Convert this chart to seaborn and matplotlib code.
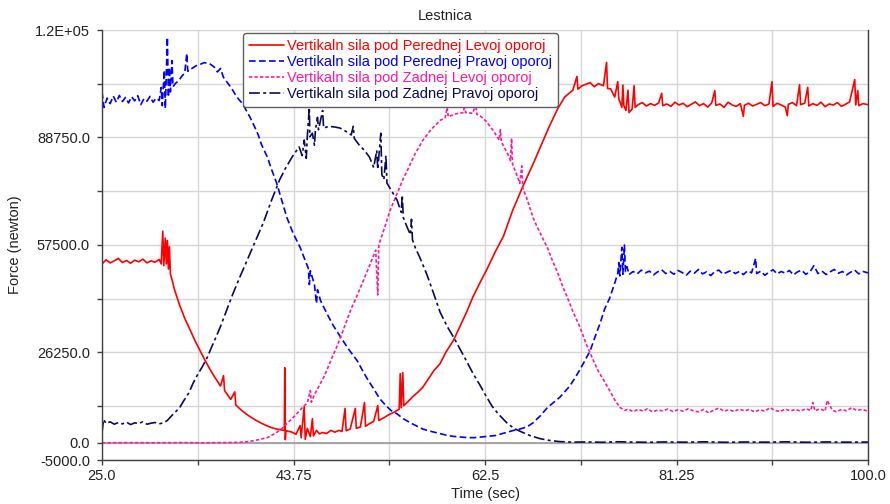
import matplotlib
matplotlib.use("Agg")
import matplotlib.pyplot as plt
import seaborn as sns

# Vertikaln sila pod Perednej Levoj oporoj (red, solid)
t_red = [25.0, 25.4, 25.8, 26.2, 26.6, 27.0, 27.4, 27.8, 28.2, 28.6, 29.0, 29.4, 29.8, 30.2, 30.6,
         30.8, 30.95, 31.05, 31.2, 31.3, 31.4, 31.5, 31.6, 31.7, 31.85, 32.1, 32.6, 33.1, 33.6, 34.1,
         34.6, 35.1, 35.6, 36.1, 36.6, 36.9, 37.0, 37.6, 38.0, 38.1, 38.6, 39.1, 39.6, 40.1, 40.6,
         41.1, 41.6, 42.1, 42.6, 42.85, 42.9, 42.95, 43.0, 43.5, 44.0, 44.4, 44.5, 44.8, 44.9, 45.1,
         45.4, 45.6, 45.7, 46.0, 46.3, 46.6, 47.0, 47.4, 47.8, 48.2, 48.5, 48.8, 48.9, 49.3, 49.8,
         49.9, 50.3, 50.7, 50.8, 51.2, 51.6, 52.0, 52.1, 52.6, 53.1, 53.6, 54.1, 54.2, 54.3, 54.45,
         54.55, 54.9, 55.5, 56.0, 56.4, 57.0, 57.5, 58.1, 58.7, 59.4, 60.0, 60.7, 61.3, 62.0, 62.7,
         63.5, 64.3, 65.2, 66.2, 67.2, 68.0, 68.8, 69.6, 70.3, 71.1, 71.5, 71.6, 72.0, 72.8, 73.2,
         73.6, 74.1, 74.4, 74.5, 74.8, 75.2, 75.5, 75.6, 75.9, 76.0, 76.1, 76.3, 76.5, 76.6, 76.9,
         77.1, 77.2, 77.5, 77.9, 78.3, 78.7, 79.1, 79.5, 79.8, 79.9, 80.3, 80.7, 81.1, 81.5, 81.9,
         82.3, 82.7, 83.1, 83.5, 83.9, 84.3, 84.7, 85.0, 85.1, 85.5, 85.9, 86.3, 86.7, 87.1, 87.5,
         87.8, 87.9, 88.3, 88.7, 89.1, 89.5, 89.9, 90.3, 90.6, 90.7, 91.1, 91.5, 91.9, 92.1, 92.2,
         92.6, 93.0, 93.3, 93.4, 93.8, 94.1, 94.2, 94.6, 95.0, 95.4, 95.8, 96.2, 96.6, 97.0, 97.4,
         97.8, 98.2, 98.7, 98.8, 99.0, 99.1, 99.5, 100.0]
f_red = [52000, 53200, 52300, 52900, 53600, 52400, 53000, 52200, 53100, 52600, 53400, 52300, 52900, 52500, 53300,
         52000, 61500, 51500, 59500, 52000, 58800, 50500, 57000, 49000, 47500, 44500, 40000, 36200, 33000, 29700,
         26800, 23900, 21200, 18800, 16500, 19500, 15200, 12600, 14800, 11000, 9600, 8400, 7400, 6500, 5700,
         5000, 4400, 4000, 3700, 3600, 21800, 900, 3500, 3200, 2500, 5000, 1500, 10500, 1000, 4200,
         1800, 7000, 2000, 3600, 2600, 3000, 2700, 3600, 3100, 3600, 3300, 10000, 3500, 4000, 10000,
         4200, 4600, 11700, 4800, 5600, 6200, 10800, 6500, 7300, 8200, 8900, 9800, 20100, 10200, 20400,
         10800, 11800, 13600, 14900, 16100, 18800, 21000, 23000, 26500, 29700, 33500, 38000, 42300, 46500, 50500,
         55500, 60000, 67500, 74500, 81000, 86500, 92000, 97000, 100500, 102500, 106500, 102800, 103800, 104700, 103500,
         104400, 103800, 110600, 103000, 102900, 100500, 105000, 100000, 97500, 104000, 98000, 96600, 102500, 96000, 97000,
         103800, 97500, 98300, 98900, 97900, 98600, 98100, 98800, 101600, 98000, 98500, 97800, 99000, 98200, 98700,
         97700, 98400, 99100, 98000, 98600, 97600, 98800, 102400, 98100, 98500, 97500, 99000, 98200, 97800, 98600,
         94900, 98100, 98700, 97900, 98400, 98900, 98000, 98500, 105000, 97800, 98700, 98200, 97600, 95100, 98400,
         98900, 98000, 104100, 98300, 98700, 103300, 97900, 98600, 98100, 99000, 97700, 98500, 98200, 98900, 97800,
         98400, 99100, 105600, 98200, 102400, 98000, 98600, 98300]

# Vertikaln sila pod Perednej Pravoj oporoj (blue, dashed)
t_blue = [25.0, 25.2, 25.5, 25.8, 26.1, 26.4, 26.7, 27.0, 27.3, 27.6, 27.9, 28.2, 28.5, 28.8, 29.1,
          29.4, 29.7, 30.0, 30.3, 30.6, 30.8, 30.9, 31.1, 31.2, 31.4, 31.5, 31.6, 31.7, 31.85, 31.95,
          32.2, 32.5, 32.8, 33.1, 33.3, 33.4, 33.8, 34.2, 34.6, 35.0, 35.5, 36.0, 36.3, 36.6, 36.9,
          37.2, 37.5, 37.8, 38.1, 38.4, 38.7, 39.0, 39.5, 40.0, 40.3, 40.6, 41.2, 41.6, 42.1, 42.6,
          43.1, 43.7, 44.4, 45.2, 45.3, 45.4, 45.8, 46.0, 46.1, 46.4, 47.0, 47.6, 48.3, 49.1, 50.0,
          50.6, 51.1, 51.6, 52.2, 52.8, 53.3, 53.9, 54.5, 55.2, 55.8, 56.4, 57.1, 57.8, 58.6, 59.3,
          60.0, 60.8, 61.5, 62.2, 62.9, 63.5, 64.1, 64.7, 65.3, 65.9, 66.6, 67.2, 67.9, 68.6, 69.2,
          69.85, 70.3, 70.8, 71.3, 71.8, 72.3, 72.8, 73.3, 73.8, 74.2, 74.7, 75.2, 75.5, 75.6, 75.7,
          75.9, 76.0, 76.15, 76.25, 76.4, 76.6, 77.0, 77.4, 77.8, 78.2, 78.6, 79.0, 79.4, 79.8, 80.2,
          80.6, 81.0, 81.4, 81.8, 82.2, 82.6, 83.0, 83.4, 83.8, 84.2, 84.6, 85.0, 85.4, 85.8, 86.2,
          86.6, 87.0, 87.4, 87.8, 88.2, 88.6, 89.0, 89.1, 89.5, 89.9, 90.3, 90.7, 91.1, 91.5, 91.9,
          92.3, 92.7, 93.1, 93.5, 93.9, 94.3, 94.7, 95.1, 95.5, 95.9, 96.3, 96.7, 97.1, 97.5, 97.9,
          98.3, 98.7, 99.1, 99.5, 100.0]
f_blue = [102000, 97500, 100200, 98600, 100800, 99000, 101000, 99200, 100400, 98800, 100600, 99400, 100900, 98300, 100000,
          99300, 100700, 99000, 100200, 99500, 103300, 98000, 108300, 97200, 117900, 100500, 109100, 102000, 111100, 103500,
          104500, 105200, 106500, 107500, 113200, 108000, 108800, 109600, 110000, 110500, 110300, 109200, 107800, 108800, 106200,
          105000, 103800, 102500, 101000, 99800, 98800, 97300, 94600, 91500, 89500, 86800, 83000, 79500, 75500, 70500,
          65500, 61000, 56800, 50700, 46000, 50000, 46000, 40500, 44500, 41300, 37700, 34300, 31000, 27400, 23800,
          20500, 18000, 15700, 12800, 10800, 9400, 8400, 7000, 5800, 4900, 4000, 3400, 2900, 2300, 1900,
          1700, 1500, 1500, 1700, 1900, 2100, 2600, 3100, 3600, 4000, 4600, 5800, 7800, 10200, 11700,
          13300, 14800, 16500, 18800, 21300, 24000, 26800, 31000, 35000, 38800, 42000, 46400, 49300, 52400, 48500,
          56800, 49000, 57500, 49800, 51200, 48900, 49800, 49100, 50200, 49400, 49900, 48800, 49700, 50300, 49200,
          49800, 49000, 50100, 49500, 48700, 49900, 49300, 50400, 49100, 49700, 48600, 49800, 50200, 49000, 49600,
          50100, 49200, 49800, 48900, 50000, 49400, 53600, 49200, 49900, 48700, 49600, 50300, 49100, 49800, 49300,
          50100, 48800, 49700, 50200, 49000, 49600, 51500, 49200, 49900, 48900, 49700, 50400, 49300, 49800, 48800,
          49600, 50200, 49100, 49800, 49400]

# Vertikaln sila pod Zadnej Levoj oporoj (pink, dotted)
t_pink = [25.0, 27.5, 30.0, 32.5, 35.0, 37.5, 38.5, 39.5, 40.3, 41.2, 42.1, 42.6, 43.1, 43.6, 44.1,
          44.5, 45.1, 45.4, 45.5, 45.8, 46.3, 46.7, 47.0, 47.5, 48.0, 48.6, 49.0, 49.4, 49.9, 50.6,
          51.2, 51.8, 52.0, 52.1, 52.5, 53.2, 53.9, 54.5, 54.9, 55.6, 56.4, 57.2, 58.1, 58.6, 58.8,
          58.9, 59.6, 60.4, 60.5, 60.6, 61.3, 61.6, 61.7, 62.0, 62.6, 63.3, 63.9, 64.0, 64.1, 64.7,
          65.0, 65.1, 65.2, 65.6, 65.9, 66.1, 66.2, 66.6, 67.2, 67.6, 67.9, 68.3, 68.6, 69.1, 69.6,
          70.1, 70.6, 71.1, 71.8, 72.4, 73.1, 73.6, 74.2, 74.7, 75.2, 75.7, 76.2, 76.5, 77.0, 77.5,
          78.0, 78.4, 78.9, 79.4, 79.9, 80.4, 80.9, 81.4, 81.9, 82.4, 82.9, 83.4, 83.9, 84.4, 84.9,
          85.4, 85.9, 86.4, 86.9, 87.4, 87.9, 88.4, 88.9, 89.4, 89.9, 90.4, 90.9, 91.4, 91.9, 92.4,
          92.9, 93.4, 93.9, 94.4, 94.6, 94.8, 95.3, 95.8, 96.0, 96.5, 96.9, 97.4, 97.9, 98.4, 98.9,
          99.4, 100.0]
f_pink = [0, 50, 0, 50, 0, 80, 150, 400, 900, 1500, 3000, 4100, 5600, 7000, 8500,
          9900, 11600, 15200, 11800, 14000, 16800, 19000, 21000, 24600, 28000, 32600, 35800, 39000, 42300, 47200,
          51500, 56000, 43000, 57500, 61000, 67500, 72500, 76800, 79200, 83700, 87900, 91000, 93700, 94500, 97500,
          94800, 95600, 96000, 99000, 96000, 95800, 98500, 95500, 95100, 93500, 90800, 88000, 91000, 87500, 84100,
          82000, 88500, 81000, 78000, 75400, 80500, 74000, 71000, 65500, 62800, 61000, 58500, 56800, 53000, 49500,
          45500, 42000, 38200, 33600, 28800, 24000, 20800, 17800, 15200, 12500, 10300, 9400, 9800, 9100, 9700,
          9200, 9900, 9000, 9500, 9300, 9800, 9100, 9600, 9200, 9900, 9300, 9000, 9700, 8700, 9500,
          10100, 9200, 9600, 9100, 9800, 9300, 9700, 9000, 9600, 9200, 10200, 9400, 9100, 9800, 9300,
          9700, 9200, 9900, 9400, 11700, 9300, 9900, 9200, 12300, 9500, 9000, 9700, 9300, 10200, 9400,
          9700, 9200]

# Vertikaln sila pod Zadnej Pravoj oporoj (navy, dash-dot)
t_navy = [25.0, 25.15, 25.4, 25.8, 26.2, 26.6, 27.0, 27.4, 27.8, 28.2, 28.6, 29.0, 29.4, 29.8, 30.2,
          30.6, 31.0, 31.4, 31.8, 32.2, 32.6, 33.0, 33.5, 33.9, 34.3, 34.8, 35.3, 35.8, 36.2, 36.6,
          37.2, 37.8, 38.5, 39.2, 40.0, 40.8, 41.6, 42.4, 43.0, 43.7, 44.3, 44.6, 44.8, 45.0, 45.1,
          45.3, 45.35, 45.6, 45.8, 45.9, 46.1, 46.2, 46.6, 46.7, 47.2, 47.8, 48.3, 48.9, 49.4, 49.6,
          49.7, 50.2, 50.7, 51.2, 51.6, 51.9, 52.0, 52.3, 52.4, 52.6, 52.8, 52.9, 53.3, 53.6, 53.9,
          54.3, 54.4, 54.5, 54.9, 55.2, 55.3, 55.4, 55.7, 56.1, 56.8, 57.4, 58.1, 58.8, 59.5, 60.1,
          60.7, 61.3, 62.0, 62.6, 63.2, 63.8, 64.7, 65.4, 66.2, 67.0, 67.9, 68.8, 69.8, 71.0, 72.5,
          74.0, 75.5, 77.0, 78.5, 80.0, 82.0, 84.0, 86.0, 88.0, 90.0, 92.0, 94.0, 96.0, 98.0, 100.0]
f_navy = [3000, 6800, 5600, 6100, 5400, 5900, 5500, 6000, 5300, 5800, 5600, 6100, 5400, 5700, 5900,
          5500, 5800, 6500, 7800, 9000, 10200, 12200, 14500, 17200, 19500, 22000, 24800, 28300, 31000, 33800,
          38500, 43200, 48200, 53000, 58500, 64000, 70500, 76500, 80000, 83500, 86000, 83500, 88000, 82700, 89000,
          97500, 89000, 90000, 86500, 91000, 94600, 91000, 96600, 91500, 92000, 91800, 91500, 90500, 89500, 92000,
          88500, 86500, 85000, 83000, 80000, 85000, 79500, 90000, 78000, 76500, 83500, 75500, 73500, 72000, 70500,
          67000, 72000, 65500, 62500, 60500, 65000, 59000, 56500, 54000, 49000, 44000, 38000, 33800, 30300, 27000,
          23700, 20300, 16800, 13600, 10600, 8400, 5600, 4100, 3000, 2000, 1200, 700, 350, 200, 250,
          150, 300, 200, 150, 250, 180, 280, 150, 230, 180, 280, 160, 240, 180, 220]

labels = ["Vertikaln sila pod Perednej Levoj oporoj",
          "Vertikaln sila pod Perednej Pravoj oporoj",
          "Vertikaln sila pod Zadnej Levoj oporoj",
          "Vertikaln sila pod Zadnej Pravoj oporoj"]
colors = ["#ff0000", "#0000ff", "#ff1a9c", "#0a0a5c"]
dash_styles = [None, (4.0, 2.0), (2.0, 1.3), (6.5, 2.0, 1.8, 2.0)]

y_ticks = [-5000, 0, 26250, 57500, 88750, 120000]
y_labels = ["-5000.0", "0.0", "26250.0", "57500.0", "88750.0", "1.2E+05"]
y_minor = [10625, 41875, 73125, 104375]
x_ticks = [25.0, 43.75, 62.5, 81.25, 100.0]
x_labels = ["25.0", "43.75", "62.5", "81.25", "100.0"]
x_minor = [34.375, 53.125, 71.875, 90.625]

sns.set_style("white")
plt.rcParams["font.family"] = ["Liberation Sans", "DejaVu Sans"]

fig = plt.figure(figsize=(8.9, 5.04), dpi=100)
ax = fig.add_axes([102 / 890, 1 - 460 / 504, 766 / 890, 430 / 504])

series = [(t_red, f_red), (t_blue, f_blue), (t_pink, f_pink), (t_navy, f_navy)]
for (t, f), lab, col, ds in zip(series, labels, colors, dash_styles):
    sns.lineplot(x=t, y=f, ax=ax, color=col, linewidth=1.2, estimator=None,
                 sort=False, label=lab, legend=False)
    if ds is not None:
        ax.lines[-1].set_dashes(ds)

ax.set_xlim(25, 100)
ax.set_ylim(-5000, 120000)
ax.set_xticks(x_ticks, labels=x_labels)
ax.set_xticks(x_minor, minor=True)
ax.set_yticks(y_ticks, labels=y_labels)
ax.set_yticks(y_minor, minor=True)

ax.grid(which="both", color="#d6d6d6", linewidth=1.0)
ax.axhline(0, color="#9a9a9a", linewidth=1.2, zorder=1)
ax.set_axisbelow(True)

for side in ["left", "bottom", "right"]:
    ax.spines[side].set_color("#404040")
    ax.spines[side].set_linewidth(1.0)
ax.spines["top"].set_visible(False)

ax.tick_params(which="both", direction="out", length=3.6, width=1.0, color="#404040",
               labelsize=10.5, labelcolor="#222222", left=True, bottom=True)
ax.tick_params(axis="y", pad=5)
ax.tick_params(axis="x", pad=3)

ax.set_xlabel("Time (sec)", fontsize=10.5, color="#222222")
ax.set_ylabel("Force (newton)", fontsize=10.5, color="#222222")
ax.xaxis.set_label_coords(0.5, -0.063)
ax.yaxis.set_label_coords(-0.104, 0.5)
ax.xaxis.label.set_va("top")

fig.text(0.5, 1 - 16 / 504, "Lestnica", ha="center", va="center", fontsize=10.5, color="#222222")

leg = ax.legend(loc="upper left", bbox_to_anchor=((243 - 102) / 766, (460 - 33) / 430),
                borderaxespad=0, fontsize=10.5, frameon=True, fancybox=True, framealpha=1,
                edgecolor="#606060", handlelength=2.4, handletextpad=0.2, labelspacing=0.15,
                borderpad=0.4)
leg.get_frame().set_linewidth(1.0)
for text, line in zip(leg.get_texts(), leg.get_lines()):
    text.set_color(line.get_color())

fig.savefig("out.png", dpi=100)
